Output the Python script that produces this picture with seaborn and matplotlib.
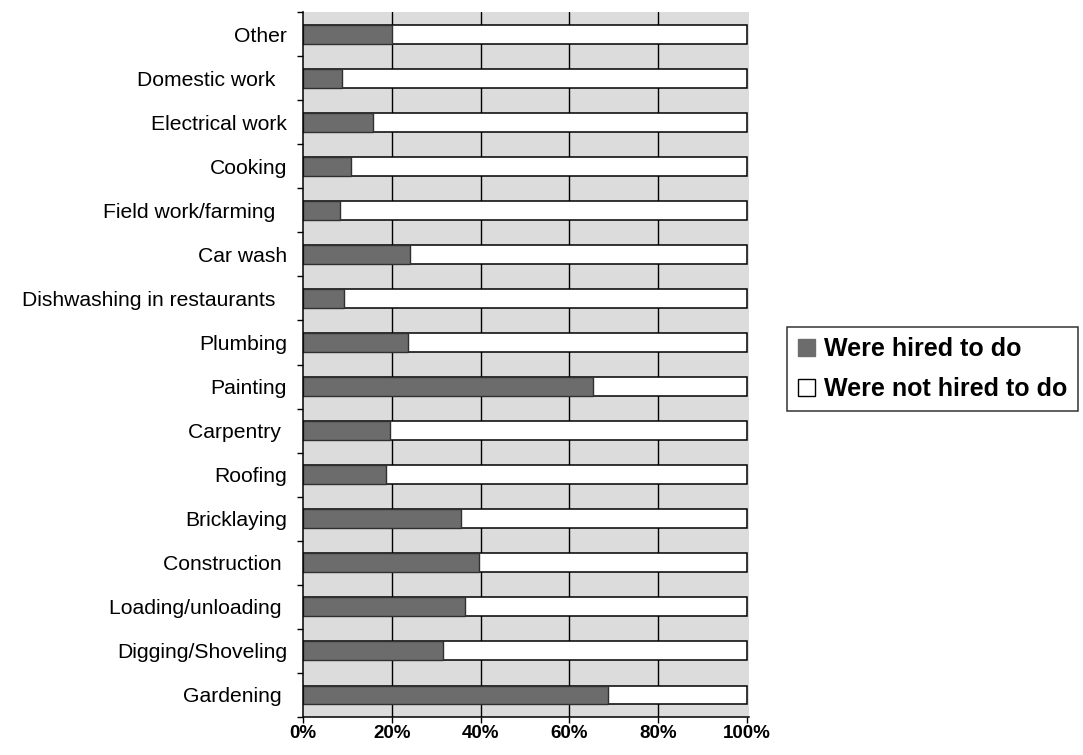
import numpy as np
import pandas as pd
import seaborn as sns
import matplotlib.pyplot as plt
from matplotlib.patches import Patch

# data (top to bottom), share of workers hired to do each task
tasks = ["Other", "Domestic work  ", "Electrical work", "Cooking", "Field work/farming  ",
         "Car wash", "Dishwashing in restaurants  ", "Plumbing", "Painting", "Carpentry ",
         "Roofing", "Bricklaying", "Construction ", "Loading/unloading ", "Digging/Shoveling",
         "Gardening "]
hired = [20.0, 8.7, 15.7, 10.7, 8.3, 24.2, 9.2, 23.6, 65.3, 19.6, 18.6, 35.7, 39.7, 36.4, 31.6, 68.7]
total = [100] * len(tasks)
series_labels = ["Were hired to do", "Were not hired to do"]
xtick_values = [0, 20, 40, 60, 80, 100]

df = pd.DataFrame({"task": tasks, "hired": hired, "total": total})

sns.set_style("white")
plt.rcParams["font.family"] = ["Liberation Sans", "DejaVu Sans"]
plt.rcParams["text.color"] = "black"
plt.rcParams["xtick.color"] = "black"
plt.rcParams["ytick.color"] = "black"

fig = plt.figure(figsize=(10.83, 7.55), dpi=100)
ax = fig.add_axes([0.2798, 0.0503, 0.4118, 0.9338])
ax.set_facecolor("#dcdcdc")

# white full-length bar first, dark "hired" share on top
sns.barplot(data=df, x="total", y="task", orient="h", color="white", saturation=1,
            edgecolor="black", linewidth=1.1, width=0.43, ax=ax, zorder=3)
sns.barplot(data=df, x="hired", y="task", orient="h", color="#6c6c6c", saturation=1,
            edgecolor="#303030", linewidth=1.0, width=0.43, ax=ax, zorder=4)

for xv in xtick_values[1:-1]:
    ax.axvline(xv, color="black", lw=1.0, zorder=1)

ax.set_xlim(0, 100.5)
ax.set_ylim(len(tasks) - 0.5, -0.5)
ax.set_xticks(xtick_values)
ax.set_xticklabels([f"{v}%" for v in xtick_values], fontsize=13.5, fontweight="bold")
ax.set_yticks(np.arange(-0.5, len(tasks), 1), minor=True)
ax.tick_params(axis="y", which="major", length=0, pad=11.5, labelsize=15.2, labelcolor="black")
ax.tick_params(axis="y", which="minor", length=4, width=1, color="black", direction="out", left=True)
ax.tick_params(axis="x", which="major", length=4, width=1, color="black", direction="out",
               bottom=True, pad=2, labelcolor="black")
ax.set_xlabel("")
ax.set_ylabel("")

for side in ["top", "right"]:
    ax.spines[side].set_visible(False)
for side in ["left", "bottom"]:
    ax.spines[side].set_color("black")
    ax.spines[side].set_linewidth(1.1)
    ax.spines[side].set_zorder(5)

handles = [Patch(facecolor="#6c6c6c", edgecolor="#6c6c6c"),
           Patch(facecolor="white", edgecolor="black", linewidth=1)]
leg = fig.legend(handles, series_labels, loc="upper left", bbox_to_anchor=(0.7267, 0.5669),
                 borderaxespad=0, frameon=True, fancybox=False, shadow=False, borderpad=0.42,
                 handlelength=0.68, handleheight=0.68, handletextpad=0.38, labelspacing=0.62,
                 prop={"size": 18, "weight": "bold"})
leg.get_frame().set_edgecolor("black")
leg.get_frame().set_linewidth(1.1)

fig.savefig("out.png", dpi=100)
